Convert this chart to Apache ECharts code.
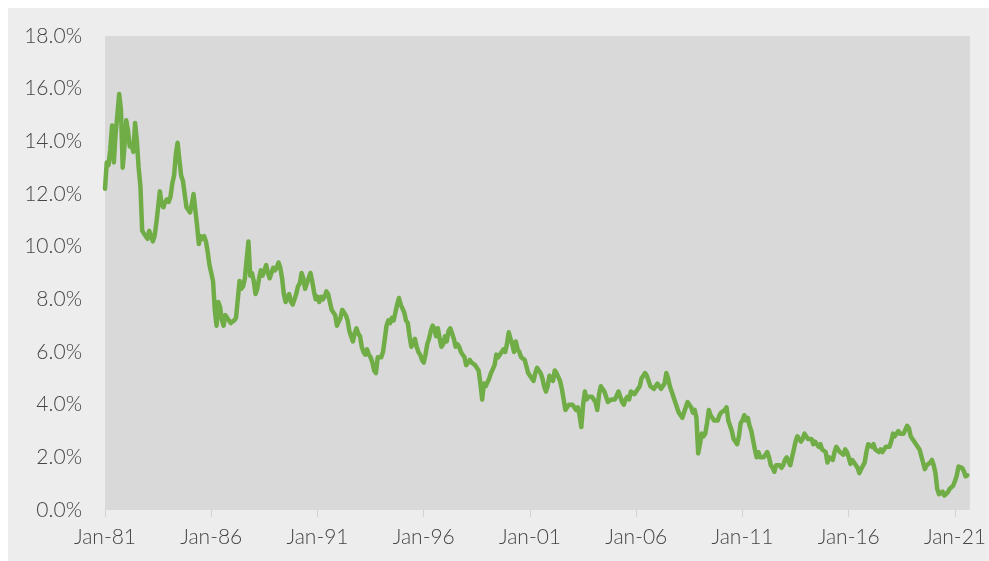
<!DOCTYPE html>
<html>
<head>
<meta charset="utf-8">
<script src="https://cdn.jsdelivr.net/npm/echarts@6/dist/echarts.min.js"></script>
<style>
html,body{margin:0;padding:0;background:#ffffff;overflow:hidden;}
#chart{width:989px;height:561px;}
</style>
</head>
<body>
<div id="chart"></div>
<script>
// Monthly 10-year yield (%), starting Jan 1981
var startYear = 1981;
var yields1980s = [
  12.2, 13.2, 13.1, 13.7, 14.6, 13.2, 14.3, 15.0, 15.8, 15.2, 13.0, 13.8,
  14.8, 14.4, 13.8, 13.9, 13.6, 14.7, 14.0, 13.0, 12.3, 10.6, 10.5, 10.4,
  10.3, 10.6, 10.4, 10.2, 10.4, 10.9, 11.5, 12.1, 11.6, 11.5, 11.7, 11.8,
  11.7, 11.9, 12.4, 12.7, 13.5, 13.95, 13.3, 12.7, 12.5, 12.0, 11.5, 11.4,
  11.3, 11.6, 12.0, 11.4, 10.8, 10.1, 10.4, 10.3, 10.4, 10.2, 9.8, 9.3,
  9.3, 8.7, 7.6, 7.0, 7.9, 7.7, 7.2, 7.0, 7.4, 7.4, 7.2, 7.1,
  7.1, 7.2, 7.3, 8.0, 8.7, 8.4, 8.5, 8.8, 9.5, 10.2, 8.9, 9.0,
  8.7, 8.2, 8.4, 8.8, 9.1, 8.9, 9.1, 9.3, 9.0, 8.8, 9.0, 9.2,
  9.1, 9.2, 9.4, 9.2, 8.8, 8.2, 7.9, 8.1, 8.2, 7.9, 7.8, 7.8
];
var yields1990s = [
  8.2, 8.5, 8.6, 9.0, 8.8, 8.4, 8.4, 8.8, 9.0, 8.7, 8.3, 8.0,
  8.1, 7.9, 8.1, 8.0, 8.1, 8.3, 8.2, 7.9, 7.6, 7.5, 7.4, 7.0,
  7.0, 7.3, 7.6, 7.5, 7.4, 7.2, 6.8, 6.6, 6.4, 6.7, 6.9, 6.7,
  6.6, 6.2, 6.0, 5.9, 6.1, 5.9, 5.8, 5.6, 5.3, 5.2, 5.8, 5.8,
  5.8, 6.0, 6.5, 7.0, 7.2, 7.1, 7.3, 7.2, 7.5, 7.8, 8.05, 7.8,
  7.8, 7.5, 7.2, 7.1, 6.6, 6.2, 6.3, 6.5, 6.2, 6.0, 5.9, 5.7,
  5.6, 5.9, 6.3, 6.5, 6.8, 7.0, 6.9, 6.6, 6.9, 6.5, 6.2, 6.3,
  6.6, 6.4, 6.8, 6.9, 6.7, 6.5, 6.2, 6.3, 6.2, 6.0, 5.9, 5.8,
  5.5, 5.6, 5.7, 5.6, 5.6, 5.5, 5.5, 5.3, 4.8, 4.2, 4.8, 4.7,
  4.7, 5.0, 5.2, 5.2, 5.5, 5.9, 5.8, 5.9, 5.9, 6.1, 6.0, 6.3
];
var yields2000s = [
  6.75, 6.5, 6.3, 6.0, 6.4, 6.1, 6.0, 5.8, 5.8, 5.7, 5.7, 5.2,
  5.1, 5.1, 4.9, 5.2, 5.4, 5.3, 5.2, 5.0, 4.7, 4.5, 4.7, 5.1,
  5.0, 4.9, 5.3, 5.2, 5.2, 4.9, 4.6, 4.2, 3.8, 3.9, 4.0, 4.0,
  4.0, 3.9, 3.8, 3.9, 3.6, 3.15, 4.0, 4.5, 4.2, 4.3, 4.3, 4.3,
  4.2, 4.1, 3.8, 4.4, 4.7, 4.7, 4.5, 4.3, 4.1, 4.1, 4.2, 4.2,
  4.2, 4.2, 4.5, 4.3, 4.1, 4.0, 4.2, 4.3, 4.2, 4.5, 4.5, 4.4,
  4.4, 4.6, 4.7, 5.0, 5.1, 5.2, 5.1, 4.9, 4.7, 4.7, 4.6, 4.6,
  4.8, 4.7, 4.6, 4.7, 4.8, 5.2, 5.0, 4.7, 4.5, 4.5, 4.1, 4.1,
  3.7, 3.7, 3.5, 3.7, 3.9, 4.1, 4.0, 3.9, 3.7, 3.8, 3.5, 2.15,
  2.5, 2.9, 2.8, 2.9, 3.3, 3.8, 3.6, 3.6, 3.4, 3.4, 3.4, 3.6
];
var yields2010s = [
  3.7, 3.7, 3.8, 3.9, 3.4, 3.2, 3.0, 2.7, 2.6, 2.5, 2.8, 3.3,
  3.4, 3.6, 3.4, 3.5, 3.2, 3.0, 3.0, 2.3, 2.0, 2.2, 2.0, 2.0,
  2.0, 2.0, 2.2, 2.0, 1.7, 1.6, 1.45, 1.7, 1.7, 1.7, 1.6, 1.7,
  1.9, 2.0, 2.0, 1.7, 2.0, 2.3, 2.6, 2.8, 2.8, 2.6, 2.7, 2.9,
  2.9, 2.7, 2.7, 2.7, 2.5, 2.6, 2.5, 2.4, 2.5, 2.3, 2.3, 2.2,
  1.8, 2.0, 2.0, 1.9, 2.2, 2.4, 2.3, 2.2, 2.2, 2.1, 2.3, 2.2,
  2.0, 1.75, 1.9, 1.8, 1.8, 1.6, 1.4, 1.55, 1.6, 1.8, 2.2, 2.5,
  2.45, 2.4, 2.5, 2.3, 2.3, 2.2, 2.3, 2.2, 2.2, 2.4, 2.35, 2.4,
  2.6, 2.9, 2.8, 2.9, 3.0, 2.9, 2.9, 2.9, 3.05, 3.2, 3.1, 2.8,
  2.7, 2.7, 2.5, 2.5, 2.3, 2.05, 2.05, 1.55, 1.7, 1.75, 1.8, 1.9
];
var yields2020s = [
  1.7, 1.4, 0.8, 0.6, 0.65, 0.7, 0.55, 0.6, 0.68, 0.8, 0.85, 0.93,
  1.1, 1.3, 1.65, 1.63, 1.6, 1.48, 1.28, 1.32
];
var xTickYears = [1981, 1986, 1991, 1996, 2001, 2006, 2011, 2016, 2021];

var allYields = [].concat(yields1980s, yields1990s, yields2000s, yields2010s, yields2020s);
var seriesData = allYields.map(function (v, i) { return [startYear + i / 12, v]; });

var chart = echarts.init(document.getElementById('chart'), null, {renderer: 'canvas'});
var textColor = '#454545';
var font = 'Lato, "Open Sans", sans-serif';
chart.setOption({
  backgroundColor: '#ffffff',
  animation: false,
  graphic: [{
    type: 'rect', z: -10, silent: true,
    shape: {x: 8, y: 8, width: 981, height: 553},
    style: {fill: '#ededed'}
  }],
  grid: {
    left: 105, right: 15, top: 36, bottom: 51,
    show: true, backgroundColor: '#d9d9d9', borderWidth: 0,
    containLabel: false
  },
  xAxis: {
    type: 'value',
    min: 1981,
    max: 2021.7,
    axisLine: {show: false},
    splitLine: {show: false},
    axisTick: {show: true, length: 7, customValues: xTickYears, lineStyle: {color: '#d2d2d2', width: 1}},
    axisLabel: {
      customValues: xTickYears,
      color: textColor, fontFamily: font, fontWeight: 300, fontSize: 21, margin: 17,
      formatter: function (v) { return 'Jan-' + String(Math.round(v)).slice(2); }
    }
  },
  yAxis: {
    type: 'value',
    min: 0, max: 18, interval: 2,
    axisLine: {show: false},
    axisTick: {show: false},
    splitLine: {show: false},
    axisLabel: {
      color: textColor, fontFamily: font, fontWeight: 300, fontSize: 21, margin: 23,
      formatter: function (v) { return v.toFixed(1) + '%'; }
    }
  },
  series: [{
    type: 'line',
    data: seriesData,
    showSymbol: false,
    smooth: false,
    lineStyle: {color: '#70ad47', width: 4.5, join: 'round', cap: 'round'},
    itemStyle: {color: '#70ad47'}
  }]
});
</script>
</body>
</html>
